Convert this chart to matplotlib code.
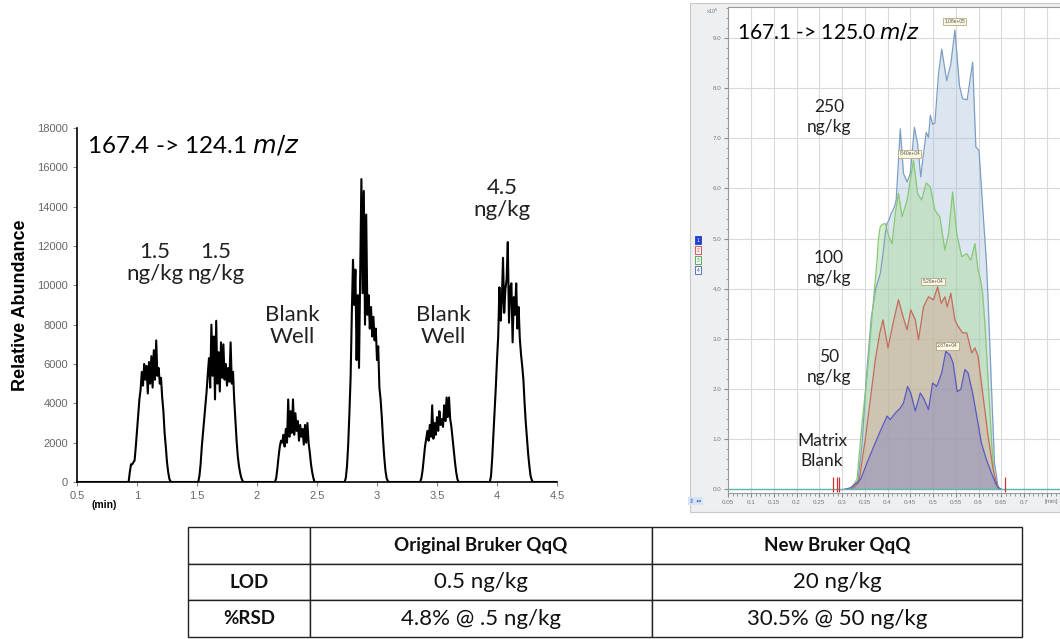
import matplotlib
matplotlib.use('Agg')
import matplotlib.pyplot as plt
import numpy as np
from matplotlib.patches import Rectangle
from matplotlib.ticker import MultipleLocator, FuncFormatter

plt.rcParams['font.family'] = ['Lato', 'DejaVu Sans']

# ---- left chromatogram (old QqQ), sampled every 0.01 min ----
peak_starts = [0.93, 1.51, 2.15, 2.73, 3.36, 3.94]
peak1 = [0, 500, 900, 900, 1000, 1100, 1800, 2600, 3400, 4200, 4700, 5600, 4900, 6000,
         5200, 5900, 4500, 6100, 5000, 6400, 4800, 6700, 5200, 7200, 5400, 5800, 5000,
         5300, 4300, 3600, 2500, 1800, 1000, 500, 150, 30, 0]
peak2 = [0, 300, 900, 1800, 2500, 3200, 3900, 4600, 5500, 6300, 4800, 8000, 5400, 7400,
         4200, 8200, 5000, 6600, 4600, 7100, 5300, 7000, 5200, 6000, 4900, 5800, 5100,
         7100, 5000, 5600, 4200, 3100, 2100, 1300, 800, 450, 200, 50, 0]
peak3 = [0, 200, 700, 1300, 1800, 2100, 2000, 2400, 1800, 2700, 2000, 4200, 2300, 3600,
         2500, 4200, 2400, 3500, 2600, 3100, 2100, 2900, 2300, 2700, 1900, 2900, 2000,
         3000, 2000, 1500, 900, 500, 200, 0]
peak4 = [0, 200, 800, 1900, 3500, 5300, 8500, 11300, 9000, 10800, 6200, 9500, 5800,
         10400, 15400, 9600, 14800, 8000, 13600, 8500, 9500, 7800, 8900, 7400, 8400, 7200,
         7800, 6200, 6900, 4800, 4200, 3300, 2200, 1300, 600, 200, 50, 0]
peak5 = [0, 200, 600, 1200, 1800, 2200, 2600, 2100, 2900, 2300, 3900, 2200, 3000, 2400,
         3300, 2600, 3600, 2900, 3200, 2800, 3900, 3100, 4300, 3300, 4300, 3200, 2800,
         2200, 1600, 1000, 500, 150, 0]
peak6 = [0, 300, 1200, 2400, 3500, 4800, 6200, 7400, 9900, 8200, 9100, 11400, 8600, 9800,
         10300, 12200, 8100, 9900, 10100, 7100, 9400, 8500, 10100, 7800, 8900, 7300, 6500,
         5900, 5200, 4000, 3000, 2200, 1400, 800, 300, 100, 0]
peaks = [peak1, peak2, peak3, peak4, peak5, peak6]

# ---- right chromatogram (new QqQ) ----
x250 = [0.325, 0.335, 0.344, 0.354, 0.364, 0.374, 0.384, 0.390, 0.395, 0.399, 0.403, 0.408,
        0.415, 0.419, 0.428, 0.435, 0.443, 0.450, 0.459, 0.466, 0.473, 0.479, 0.485, 0.490,
        0.494, 0.499, 0.504, 0.512, 0.519, 0.530, 0.539, 0.548, 0.558, 0.565, 0.575, 0.587,
        0.594, 0.601, 0.610, 0.617, 0.621, 0.628, 0.635, 0.643, 0.650]
y250 = [0.0, 0.15, 0.9, 2.3, 3.4, 4.0, 4.3, 4.7, 5.1, 5.3, 5.37, 5.50, 5.63, 5.77, 7.19, 6.30,
        6.13, 6.30, 7.22, 6.89, 6.23, 6.69, 7.12, 7.02, 7.46, 7.28, 7.30, 8.28, 8.78, 8.15,
        8.48, 9.16, 8.05, 7.79, 7.77, 8.52, 6.83, 6.76, 5.50, 4.57, 3.78, 2.12, 0.53, 0.04, 0.0]
x100 = [0.319, 0.333, 0.344, 0.355, 0.366, 0.377, 0.380, 0.384, 0.390, 0.395, 0.403, 0.410,
        0.417, 0.424, 0.432, 0.443, 0.457, 0.466, 0.475, 0.485, 0.494, 0.504, 0.515, 0.526,
        0.534, 0.543, 0.552, 0.563, 0.574, 0.583, 0.592, 0.599, 0.604, 0.609, 0.614, 0.619,
        0.624, 0.629, 0.634, 0.639, 0.645]
y100 = [0.0, 0.2, 1.33, 2.25, 3.45, 4.57, 5.0, 5.24, 5.29, 5.30, 5.04, 4.9, 5.5, 5.90, 5.44,
        5.77, 6.56, 5.90, 5.77, 6.11, 6.03, 5.57, 5.43, 4.77, 5.10, 5.93, 5.10, 4.64, 4.70,
        4.57, 4.90, 4.37, 4.2, 3.9, 3.3, 2.5, 1.7, 0.9, 0.3, 0.05, 0.0]
x50 = [0.320, 0.337, 0.352, 0.363, 0.373, 0.383, 0.390, 0.401, 0.412, 0.424, 0.432, 0.443,
       0.451, 0.461, 0.468, 0.479, 0.490, 0.501, 0.510, 0.518, 0.526, 0.531, 0.539, 0.548,
       0.555, 0.565, 0.574, 0.585, 0.592, 0.599, 0.610, 0.621, 0.632, 0.641, 0.648]
y50 = [0.0, 0.13, 1.06, 1.85, 2.58, 3.12, 3.38, 2.82, 3.31, 3.78, 3.51, 3.18, 3.58, 3.38,
       2.98, 3.64, 3.84, 3.78, 4.04, 3.71, 3.84, 3.64, 3.91, 3.38, 3.25, 3.12, 3.12, 2.72,
       2.82, 2.65, 1.85, 1.06, 0.40, 0.07, 0.0]
xblank = [0.305, 0.319, 0.341, 0.355, 0.370, 0.384, 0.399, 0.406, 0.417, 0.428, 0.435, 0.444,
          0.451, 0.461, 0.472, 0.479, 0.490, 0.499, 0.508, 0.519, 0.528, 0.537, 0.544, 0.553,
          0.561, 0.570, 0.577, 0.587, 0.596, 0.606, 0.617, 0.628, 0.637, 0.643, 0.650]
yblank = [0.0, 0.03, 0.2, 0.53, 0.86, 1.16, 1.46, 1.39, 1.52, 1.62, 1.72, 2.05, 1.92, 1.56,
          1.92, 1.82, 1.59, 2.12, 2.05, 2.32, 2.75, 2.68, 2.52, 1.95, 1.99, 2.39, 2.32, 1.92,
          1.46, 0.93, 0.60, 0.33, 0.13, 0.03, 0.0]
tags = ['1.08e+05', '8.40e+04', '5.26e+04', '2.87e+04']
tag_x = [0.548, 0.449, 0.500, 0.531]
tag_y = [9.33, 6.69, 4.14, 2.86]
mark_x = [0.281, 0.288, 0.293, 0.658]

# ---- table ----
col_labels = ['', 'Original Bruker QqQ', 'New Bruker QqQ']
row_labels = ['LOD', '%RSD']
old_vals = ['0.5 ng/kg', '4.8% @ .5 ng/kg']
new_vals = ['20 ng/kg', '30.5% @ 50 ng/kg']

W, H = 1060, 639
fig = plt.figure(figsize=(W / 100, H / 100), dpi=100)


def fx(x):
    return x / W


def fy(y):
    return 1 - y / H


# ================= left chart =================
ax1 = fig.add_axes([fx(77), fy(482), 480 / W, 354 / H])
t_all = [0.5]
y_all = [0]
for start, vals in zip(peak_starts, peaks):
    t = start + 0.01 * np.arange(len(vals))
    t_all += list(t)
    y_all += vals
t_all.append(4.5)
y_all.append(0)
ax1.plot(t_all, y_all, color='black', lw=1.5)
ax1.set_xlim(0.5, 4.5)
ax1.set_ylim(0, 18000)
ax1.set_xticks(np.arange(0.5, 4.51, 0.5))
ax1.xaxis.set_major_formatter(FuncFormatter(lambda v, p: '%g' % v))
ax1.set_yticks(range(0, 18001, 2000))
for s in ['top', 'right']:
    ax1.spines[s].set_visible(False)
ax1.spines['left'].set_linewidth(1.2)
ax1.spines['bottom'].set_linewidth(1.2)
ax1.tick_params(labelsize=8, labelcolor='#666666', color='#888888', length=3,
                labelfontfamily='Liberation Sans')
ax1.set_ylabel('Relative Abundance', fontsize=13, fontweight='bold',
               fontfamily='Liberation Sans', labelpad=6)
fig.text(fx(92), fy(505), '(min)', fontsize=7.5, fontweight='bold',
         fontfamily='Liberation Sans', va='center')
fig.text(fx(87), fy(145), '167.4 -> 124.1 $\\it{m/z}$', fontsize=17.5, va='center')
for lab, (px, py) in [('1.5\nng/kg', (155, 263)), ('1.5\nng/kg', (216, 263)),
                      ('Blank\nWell', (292, 326)), ('Blank\nWell', (443, 326)),
                      ('4.5\nng/kg', (502, 199))]:
    fig.text(fx(px), fy(py), lab, fontsize=16, ha='center', va='center',
             linespacing=1.15, color='#222222')

# ================= right chart =================
fig.patches.append(Rectangle((fx(690), fy(512)), (W - 690) / W, (512 - 3) / H,
                             transform=fig.transFigure, facecolor='#eeeff1',
                             edgecolor='#c8c8c8', lw=0.8, zorder=-10))
ax2 = fig.add_axes([fx(728.3), fy(493.3), (W - 728.3) / W, (493.3 - 7) / H])
ax2.set_facecolor('white')
ax2.set_xlim(0.05, 0.779)
ax2.set_ylim(-0.08, 9.62)
ax2.set_xticks(np.arange(0.05, 0.78, 0.05))
ax2.xaxis.set_major_formatter(FuncFormatter(lambda v, p: '%g' % round(v, 2) if v < 0.72 else ''))
ax2.xaxis.set_minor_locator(MultipleLocator(0.01))
ax2.set_yticks(range(0, 10))
ax2.yaxis.set_major_formatter(FuncFormatter(lambda v, p: '%.1f' % v))
ax2.yaxis.set_minor_locator(MultipleLocator(0.2))
ax2.grid(True, which='major', color='#d9d9d9', lw=0.8)
ax2.set_axisbelow(True)
ax2.tick_params(which='both', labelsize=4.5, labelcolor='#777777', color='#8a8a8a',
                labelfontfamily='Liberation Sans', pad=2)
ax2.tick_params(which='major', length=3)
ax2.tick_params(which='minor', length=1.8)
for s in ['left', 'bottom', 'top']:
    ax2.spines[s].set_color('#9a9a9a')
    ax2.spines[s].set_linewidth(0.8)
ax2.spines['right'].set_visible(False)

traces = [(x250, y250, '#7d9ec4', '#a9c2dc', 0.4),
          (x100, y100, '#86c873', '#a8d99a', 0.45),
          (x50, y50, '#c66a5c', '#d9a595', 0.45),
          (xblank, yblank, '#5858c4', '#8a8ac0', 0.5)]
for xs, ys, lc, fc, a in traces:
    ax2.fill_between(xs, 0, ys, color=fc, alpha=a, lw=0)
    ax2.plot(xs, ys, color=lc, lw=0.9)
ax2.axhline(0, color='#5fb6b0', lw=1.0)
ax2.vlines(mark_x, -0.05, 0.25, color='#d03030', lw=0.9)
for lab, tx, ty in zip(tags, tag_x, tag_y):
    ax2.text(tx, ty, lab, fontsize=3.5, ha='center', va='center', color='#555555',
             fontfamily='Liberation Sans',
             bbox=dict(boxstyle='square,pad=0.25', facecolor='#fdf8e2',
                       edgecolor='#a89a70', lw=0.5))

fig.text(fx(737), fy(32), '167.1 -> 125.0 $\\it{m/z}$', fontsize=15, va='center')
for lab, (px, py) in [('250\nng/kg', (829, 117)), ('100\nng/kg', (829, 268)),
                      ('50\nng/kg', (829, 367)), ('Matrix\nBlank', (822, 451))]:
    fig.text(fx(px), fy(py), lab, fontsize=12.5, ha='center', va='center',
             linespacing=1.3, color='#222222')
fig.text(fx(712), fy(14), 'x10$^5$', fontsize=4, color='#777777', ha='center',
         fontfamily='Liberation Sans')
fig.text(fx(1058), fy(501), '[min]', fontsize=4.5, color='#777777', ha='right',
         va='center', fontfamily='Liberation Sans')
for i, (c, py) in enumerate([('#2040d0', 240), ('#d04040', 250), ('#40a040', 260),
                             ('#4060b0', 270)]):
    fig.text(fx(698), fy(py), str(i + 1), fontsize=3.5, color='white' if i == 0 else c,
             ha='center', va='center', fontfamily='Liberation Sans',
             bbox=dict(boxstyle='square,pad=0.3', facecolor=c if i == 0 else '#f4f4f4',
                       edgecolor=c, lw=0.6))
fig.text(fx(695), fy(501), '\u21d5 \u21d4', fontsize=4.5, color='#3060b0', ha='center',
         va='center', fontfamily='DejaVu Sans',
         bbox=dict(boxstyle='square,pad=0.2', facecolor='#d6e4f4', edgecolor='none'))

# ================= table =================
ax3 = fig.add_axes([fx(188), fy(637), 834 / W, 110 / H])
ax3.axis('off')
cells = [col_labels] + [[r, o, n] for r, o, n in zip(row_labels, old_vals, new_vals)]
tbl = ax3.table(cellText=cells, cellLoc='center', bbox=[0, 0, 1, 1],
                colWidths=[122, 342, 370])
tbl.auto_set_font_size(False)
for (r, c), cell in tbl.get_celld().items():
    cell.set_edgecolor('#222222')
    cell.set_linewidth(1.0)
    txt = cell.get_text()
    txt.set_color('#111111')
    if r == 0 or c == 0:
        txt.set_fontweight('bold')
        txt.set_fontsize(13.5)
    else:
        txt.set_fontsize(16)

fig.savefig('out.png', dpi=100)
